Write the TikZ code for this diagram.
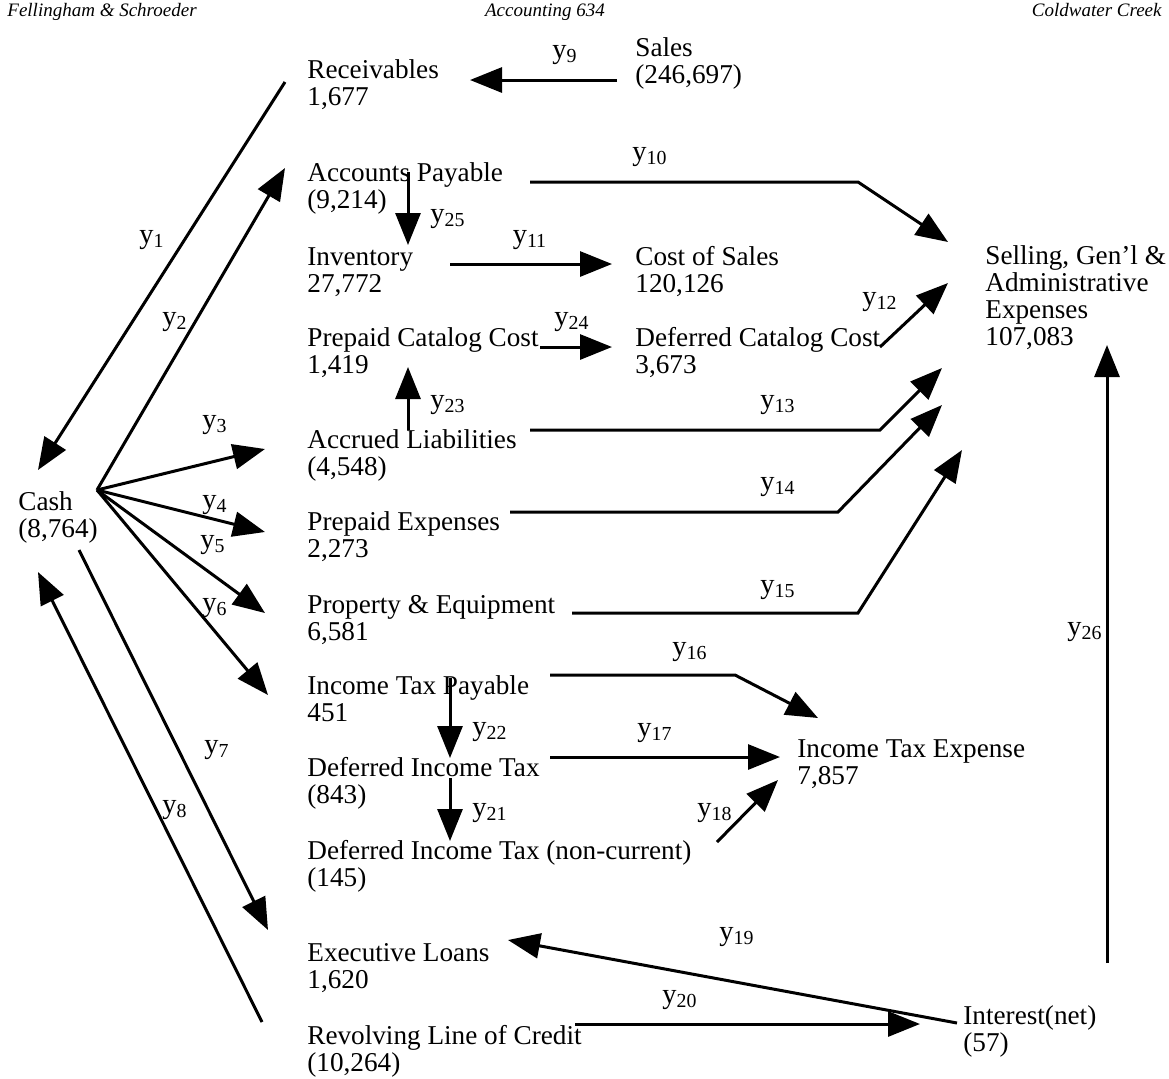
\documentclass[tikz,border=0pt]{standalone}
\usepackage{fontspec}
\setmainfont{Liberation Serif}
\usetikzlibrary{arrows.meta}
\tikzset{
  head/.style={inner sep=0pt,font=\fontsize{9.5}{11}\selectfont\itshape},
  acct/.style={anchor=base west,inner sep=0pt,align=left,font=\fontsize{13.6}{13.4}\selectfont},
  flow/.style={-{Triangle[length=16pt,width=12.5pt]},line width=1.5pt},
  lbl/.style={inner sep=0pt,font=\fontsize{14.2}{14.5}\selectfont},
}
\newcommand{\yv}[1]{y\textsubscript{#1}}
\begin{document}
\begin{tikzpicture}[x=0.5pt,y=-0.5pt]
\useasboundingbox (0,0) rectangle (1169,1078);
% header
\node[head,anchor=base west] (auth) at (7,16) {Fellingham \& Schroeder};
\node[head,anchor=base] (course) at (545,16) {Accounting 634};
\node[head,anchor=base east] (firm) at (1162,16) {Coldwater Creek};
% accounts (placed by the baseline of the last line)
\node[acct] (cash) at (18,537) {Cash\\(8,764)};
\node[acct] (recv) at (307,105) {Receivables\\1,677};
\node[acct] (sales) at (635,83) {Sales\\(246,697)};
\node[acct] (ap) at (307,208) {Accounts Payable\\(9,214)};
\node[acct] (inv) at (307,292) {Inventory\\27,772};
\node[acct] (cos) at (635,292) {Cost of Sales\\120,126};
\node[acct] (pcc) at (307,373) {Prepaid Catalog Cost\\1,419};
\node[acct] (dcc) at (635,373) {Deferred Catalog Cost\\3,673};
\node[acct] (accr) at (307,475) {Accrued Liabilities\\(4,548)};
\node[acct] (ppe) at (307,557) {Prepaid Expenses\\2,273};
\node[acct] (prop) at (307,640) {Property \& Equipment\\6,581};
\node[acct] (itp) at (307,721) {Income Tax Payable\\451};
\node[acct] (dit) at (307,803) {Deferred Income Tax\\(843)};
\node[acct] (ditnc) at (307,886) {Deferred Income Tax (non-current)\\(145)};
\node[acct] (exec) at (307,988) {Executive Loans\\1,620};
\node[acct] (rlc) at (307,1071) {Revolving Line of Credit\\(10,264)};
\node[acct] (sga) at (985,345) {Selling, Gen'l \&\\Administrative\\Expenses\\107,083};
\node[acct] (ite) at (797,784) {Income Tax Expense\\7,857};
\node[acct] (int) at (963,1051) {Interest(net)\\(57)};
% arrow ends
\foreach \n/\x/\y in {c1a/285/82, c1b/38/470, fan/97/490, c2/285/168, c3/265/449,
    c4/265/532, c5/265/613, c6/268/695, c7a/79/550, c7b/268/930,
    c8a/262/1022, c8b/38/572, c9a/617/80, c9b/470/80,
    c10a/530/182, c10b/858/182, c10c/948/242, c11a/450/264, c11b/612/264,
    c12a/880/347, c12b/948/283, c13a/530/430, c13b/880/430, c13c/942/368,
    c14a/510/512, c14b/838/512, c14c/942/405, c15a/572/613, c15b/858/613, c15c/962/450,
    c16a/550/675, c16b/735/675, c16c/818/718, c17a/550/757, c17b/780/757,
    c18a/717/842, c18b/778/780, c19a/957/1023, c19b/508/940,
    c20a/575/1024, c20b/920/1024, c21a/450/778, c21b/450/841,
    c22a/450/678, c22b/450/758, c23a/408/430, c23b/408/367,
    c24a/540/347, c24b/612/347, c25a/408/172, c25b/408/245,
    c26a/1107/963, c26b/1107/345}
  \coordinate (\n) at (\x,\y);
% flows
\draw[flow] (c1a) -- (c1b);
\draw[flow] (fan) -- (c2);
\draw[flow] (fan) -- (c3);
\draw[flow] (fan) -- (c4);
\draw[flow] (fan) -- (c5);
\draw[flow] (fan) -- (c6);
\draw[flow] (c7a) -- (c7b);
\draw[flow] (c8a) -- (c8b);
\draw[flow] (c9a) -- (c9b);
\draw[flow] (c10a) -- (c10b) -- (c10c);
\draw[flow] (c11a) -- (c11b);
\draw[flow] (c12a) -- (c12b);
\draw[flow] (c13a) -- (c13b) -- (c13c);
\draw[flow] (c14a) -- (c14b) -- (c14c);
\draw[flow] (c15a) -- (c15b) -- (c15c);
\draw[flow] (c16a) -- (c16b) -- (c16c);
\draw[flow] (c17a) -- (c17b);
\draw[flow] (c18a) -- (c18b);
\draw[flow] (c19a) -- (c19b);
\draw[flow] (c20a) -- (c20b);
\draw[flow] (c21a) -- (c21b);
\draw[flow] (c22a) -- (c22b);
\draw[flow] (c23a) -- (c23b);
\draw[flow] (c24a) -- (c24b);
\draw[flow] (c25a) -- (c25b);
\draw[flow] (c26a) -- (c26b);
% flow labels
\foreach \k/\x/\y in {1/152/240, 2/175/322, 3/215/425, 4/215/505, 5/213/545,
    6/215/608, 7/217/750, 8/175/810, 9/565/55, 10/650/157, 11/530/240,
    12/880/302, 13/778/405, 14/778/487, 15/778/590, 16/690/652, 17/655/733,
    18/715/813, 19/737/937, 20/680/1000, 21/490/813, 22/490/732, 23/448/405,
    24/572/322, 25/448/219, 26/1085/632}
  \node[lbl] (l\k) at (\x,\y) {\yv{\k}};
\end{tikzpicture}
\end{document}
